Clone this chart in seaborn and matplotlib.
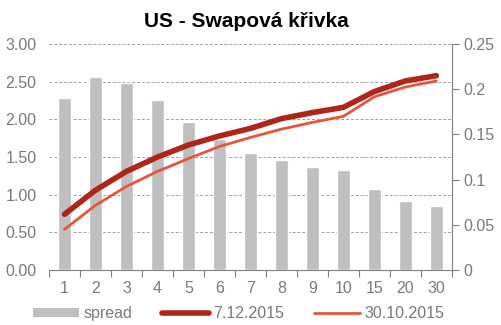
import matplotlib
matplotlib.use("Agg")
import matplotlib.pyplot as plt
import seaborn as sns
import numpy as np
import pandas as pd
from matplotlib.ticker import FuncFormatter, FixedLocator
from matplotlib.lines import Line2D
from matplotlib.patches import Patch

tenors = ["1", "2", "3", "4", "5", "6", "7", "8", "9", "10", "15", "20", "30"]
spread = [0.190, 0.213, 0.207, 0.188, 0.164, 0.145, 0.129, 0.122, 0.114, 0.111, 0.090, 0.076, 0.071]
curve_dec = [0.74, 1.06, 1.31, 1.50, 1.66, 1.78, 1.88, 2.01, 2.09, 2.16, 2.37, 2.51, 2.58]
curve_oct = [0.54, 0.86, 1.11, 1.31, 1.48, 1.64, 1.76, 1.87, 1.96, 2.04, 2.30, 2.43, 2.51]
left_ticks = [0.0, 0.5, 1.0, 1.5, 2.0, 2.5, 3.0]
right_ticks = [0.0, 0.05, 0.10, 0.15, 0.20, 0.25]

sns.set_style("white")
plt.rcParams["font.family"] = ["Liberation Sans", "DejaVu Sans"]

gray_txt = "#7A7A7A"
fs = 11.5
fig = plt.figure(figsize=(5.02, 3.25), dpi=100)
ax_grid = fig.add_axes([0.0976, 0.169, 0.8025, 0.6955])
ax_bar = ax_grid.twinx()
ax_line = ax_grid.twinx()

pos = np.arange(len(tenors))
df = pd.DataFrame({"tenor": tenors, "spread": spread, "pos": pos,
                   "dec": curve_dec, "oct": curve_oct})

# grid axis (left)
ax_grid.set_ylim(0, 3)
ax_grid.set_yticks(left_ticks)
ax_grid.yaxis.set_major_formatter(FuncFormatter(lambda v, p: f"{v:.2f}"))
ax_grid.grid(axis="y", color="#A0A0A0", linestyle=(0, (3, 2)), linewidth=0.7)
ax_grid.grid(axis="x", visible=False)
ax_grid.tick_params(axis="y", length=0, labelsize=fs, labelcolor=gray_txt, pad=9)
ax_grid.set_xlim(-0.5, len(tenors) - 0.5)
ax_grid.set_xticks(pos)
ax_grid.set_xticklabels(tenors)
ax_grid.xaxis.set_minor_locator(FixedLocator(np.arange(-0.5, len(tenors), 1.0)))
ax_grid.tick_params(axis="x", which="major", length=0, labelsize=fs, labelcolor=gray_txt, pad=8)
ax_grid.tick_params(axis="x", which="minor", length=5, color="#808080", width=0.8, bottom=True)
for s in ["left", "top", "right"]:
    ax_grid.spines[s].set_visible(False)
ax_grid.spines["bottom"].set_color("#808080")
ax_grid.spines["bottom"].set_linewidth(0.8)
ax_grid.set_zorder(0)

# bars (right axis)
sns.barplot(data=df, x="pos", y="spread", ax=ax_bar, color="#BFBFBF",
            width=0.4, native_scale=True, saturation=1)
ax_bar.set_ylim(0, 0.25)
ax_bar.set_xlim(-0.5, len(tenors) - 0.5)
ax_bar.set_yticks(right_ticks)
ax_bar.yaxis.set_major_formatter(FuncFormatter(lambda v, p: f"{v:g}"))
ax_bar.tick_params(axis="y", right=True, length=5, color="#808080", labelsize=fs,
                   labelcolor=gray_txt, pad=3)
ax_bar.set_ylabel("")
ax_bar.set_xlabel("")
ax_bar.patch.set_visible(False)
for s in ["left", "top", "bottom"]:
    ax_bar.spines[s].set_visible(False)
ax_bar.spines["right"].set_color("#808080")
ax_bar.spines["right"].set_linewidth(0.8)
ax_bar.set_zorder(1)

# lines (left scale)
sns.lineplot(data=df, x="pos", y="oct", ax=ax_line, color="#E8553C", linewidth=2.0,
             solid_capstyle="round")
sns.lineplot(data=df, x="pos", y="dec", ax=ax_line, color="#B0251A", linewidth=4.0,
             solid_capstyle="round")
ax_line.set_ylim(0, 3)
ax_line.set_xlim(-0.5, len(tenors) - 0.5)
ax_line.set_yticks([])
ax_line.set_ylabel("")
ax_line.set_xlabel("")
ax_line.patch.set_visible(False)
for s in ax_line.spines.values():
    s.set_visible(False)
ax_line.set_zorder(2)
ax_grid.set_xticks(pos)
ax_grid.set_xticklabels(tenors)
ax_grid.set_xlabel("")

fig.text(0.49, 0.935, "US - Swapová křivka", ha="center", va="center",
         fontsize=15, fontweight="bold", color="black")

handles = [Patch(facecolor="#BFBFBF", edgecolor="none"),
           Line2D([], [], color="#B0251A", linewidth=4.0, solid_capstyle="round"),
           Line2D([], [], color="#E8553C", linewidth=2.0)]
fig.legend(handles, ["spread", "7.12.2015", "30.10.2015"], loc="center",
           bbox_to_anchor=(0.475, 0.035), ncol=3, frameon=False, fontsize=fs,
           handlelength=2.9, handleheight=0.55, handletextpad=0.25, columnspacing=1.9,
           labelcolor=gray_txt)

fig.savefig("out.png", dpi=100)
